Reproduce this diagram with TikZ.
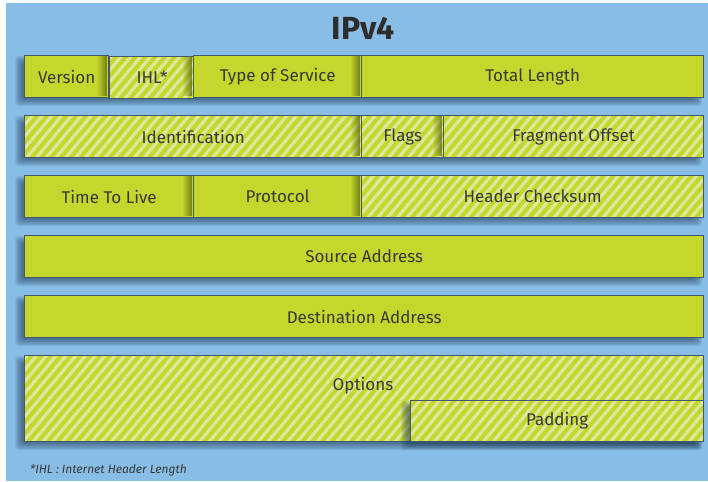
\documentclass[tikz,border=0pt]{standalone}
\usepackage{fontspec}
\setmainfont{Fira Sans}
\usetikzlibrary{patterns.meta,fadings}
\definecolor{bgblue}{HTML}{88BEE6}
\definecolor{boxgreen}{HTML}{C4D72C}
\definecolor{stripe}{HTML}{DDE89C}
\definecolor{edgec}{HTML}{44586A}
\definecolor{txtc}{HTML}{383838}
\definecolor{shadec}{HTML}{1F3A55}
\definecolor{darkolive}{HTML}{5F6C0C}
\tikzfading[name=fadeinright, left color=transparent!100, right color=transparent!0]
\newcommand{\myshade}[4]{%
  \foreach \e in {-3,-2,...,4}{%
    \fill[shadec,opacity=0.095,rounded corners=3pt] ({#1-5-\e},{#2+5-\e}) rectangle ({#3-5+\e},{#4+5+\e});
  }}
\newcommand{\mybox}[7]{%
  \node[#6, minimum width={#4-#2}, minimum height={#5-#3}] (#1) at (#2,#3) {#7};}
\newcommand{\myedge}[3]{%
  \fill[darkolive, path fading=fadeinright, opacity=0.85] ({#1-11},{#2+0.7}) rectangle ({#1-0.7},{#3-0.7});}
\tikzset{
  fieldbox/.style={draw=edgec, line width=1.3pt, inner sep=0pt, anchor=north west,
    text=txtc, font=\fontsize{17}{20}\selectfont},
  solidbox/.style={fieldbox, fill=boxgreen},
  hatchbox/.style={fieldbox, preaction={fill=boxgreen},
    pattern={Lines[angle=50,distance=7.5pt,line width=3.2pt]}, pattern color=stripe},
}
\begin{document}
\begin{tikzpicture}[x=1pt,y=-1pt]
\fill[white] (0,0) rectangle (708,481);
\fill[bgblue] (6,3) rectangle (708,481);
\useasboundingbox (0,0) rectangle (708,481);

\node[text=txtc!80!black, font=\bfseries\fontsize{32}{36}\selectfont] (title) at (363,28) {IPv4};

% row shadows
\myshade{24}{55}{703}{97}
\myshade{24}{115}{703}{157}
\myshade{24}{175}{703}{217}
\myshade{24}{235}{703}{277}
\myshade{24}{295}{703}{337}
\myshade{24}{355}{703}{441}

% row 1
\mybox{ver}{24}{55}{108}{97}{solidbox}{Version}
\mybox{ihl}{108}{55}{193}{97}{hatchbox}{IHL*}
\mybox{tos}{193}{55}{361}{97}{solidbox}{Type of Service}
\mybox{tl}{361}{55}{703}{97}{solidbox}{Total Length}
\myedge{108}{55}{97}
\myedge{193}{55}{97}
\myedge{361}{55}{97}

% row 2
\mybox{ident}{24}{115}{361}{157}{hatchbox}{Identification}
\mybox{flags}{361}{115}{443}{157}{hatchbox}{Flags}
\mybox{frag}{443}{115}{703}{157}{hatchbox}{Fragment Offset}
\myedge{361}{115}{157}
\myedge{443}{115}{157}

% row 3
\mybox{ttl}{24}{175}{193}{217}{solidbox}{Time To Live}
\mybox{proto}{193}{175}{361}{217}{solidbox}{Protocol}
\mybox{hcs}{361}{175}{703}{217}{hatchbox}{Header Checksum}
\myedge{193}{175}{217}
\myedge{361}{175}{217}

% rows 4, 5
\mybox{src}{24}{235}{703}{277}{solidbox}{Source Address}
\mybox{dst}{24}{295}{703}{337}{solidbox}{Destination Address}

% row 6
\mybox{opts}{24}{355}{703}{441}{hatchbox}{}
\node[text=txtc, font=\fontsize{17}{20}\selectfont] (optlabel) at (363,386) {Options};
\myshade{410}{400}{703}{441}
\mybox{pad}{410}{400}{703}{441}{hatchbox}{Padding}

\node[anchor=west, inner sep=0pt, text=txtc, font=\itshape\fontsize{12}{14}\selectfont] (note) at (30,470) {*IHL : Internet Header Length};
\end{tikzpicture}
\end{document}
